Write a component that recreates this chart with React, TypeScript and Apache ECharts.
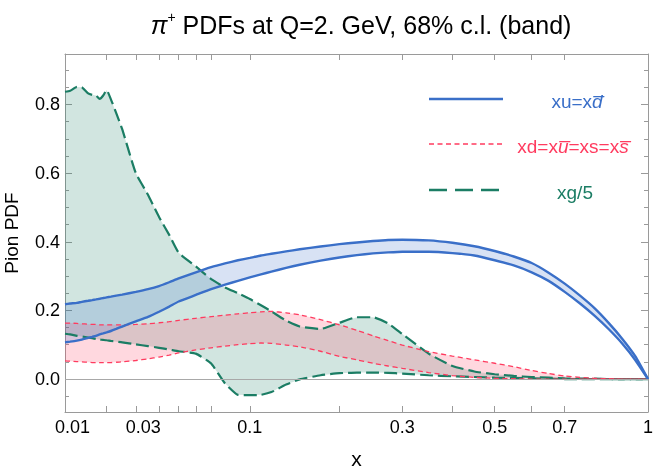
import React, { useEffect, useRef } from "react";
import * as echarts from "echarts";

// x sample points (momentum fraction)
const X = [
  0.01, 0.011, 0.0124, 0.0135, 0.015, 0.016, 0.017, 0.018, 0.019, 0.02, 0.0213, 0.023, 0.025,
  0.03, 0.035, 0.04, 0.045, 0.05, 0.06, 0.07, 0.08, 0.09, 0.1, 0.11, 0.12, 0.135, 0.15, 0.175,
  0.2, 0.225, 0.25, 0.275, 0.3, 0.35, 0.4, 0.45, 0.5, 0.55, 0.6, 0.65, 0.7, 0.75, 0.8, 0.85,
  0.9, 0.95, 1.0,
];

// xu = x dbar band
const U_HI = [
  0.218, 0.22, 0.222, 0.225, 0.228, 0.23, 0.232, 0.234, 0.236, 0.238, 0.24, 0.243, 0.246,
  0.254, 0.262, 0.271, 0.282, 0.293, 0.311, 0.326, 0.337, 0.346, 0.353, 0.36, 0.365, 0.372,
  0.378, 0.386, 0.393, 0.398, 0.402, 0.405, 0.406, 0.404, 0.397, 0.387, 0.373, 0.357, 0.338,
  0.31, 0.278, 0.243, 0.206, 0.163, 0.117, 0.066, 0,
];
const U_LO = [
  0.107, 0.109, 0.112, 0.115, 0.12, 0.123, 0.126, 0.13, 0.133, 0.136, 0.14, 0.146, 0.153,
  0.168, 0.181, 0.196, 0.211, 0.226, 0.245, 0.262, 0.275, 0.286, 0.296, 0.305, 0.313, 0.324,
  0.333, 0.345, 0.354, 0.361, 0.366, 0.369, 0.371, 0.371, 0.367, 0.36, 0.346, 0.331, 0.311,
  0.286, 0.254, 0.22, 0.184, 0.145, 0.103, 0.055, 0,
];

// xd = x ubar = xs = x sbar band
const D_HI = [
  0.163, 0.163, 0.162, 0.161, 0.16, 0.159, 0.159, 0.158, 0.158, 0.158, 0.158, 0.158, 0.158,
  0.159, 0.161, 0.164, 0.167, 0.171, 0.177, 0.182, 0.186, 0.19, 0.193, 0.196, 0.197, 0.193,
  0.187, 0.173, 0.158, 0.142, 0.126, 0.112, 0.099, 0.08, 0.067, 0.056, 0.046, 0.036, 0.025,
  0.016, 0.009, 0.005, 0.002, 0.001, 0, 0, 0,
];
const D_LO = [
  0.053, 0.052, 0.051, 0.05, 0.049, 0.048, 0.048, 0.048, 0.048, 0.048, 0.048, 0.049, 0.05,
  0.054, 0.059, 0.064, 0.07, 0.076, 0.085, 0.091, 0.096, 0.1, 0.103, 0.105, 0.104, 0.099,
  0.094, 0.081, 0.066, 0.056, 0.046, 0.038, 0.031, 0.019, 0.01, 0.005, 0.002, 0.001, 0, 0, 0,
  0, 0, 0, 0, 0, 0,
];

// xg/5 band
const G_HI = [
  0.837, 0.84, 0.851, 0.85, 0.832, 0.828, 0.826, 0.816, 0.826, 0.842, 0.815, 0.775, 0.728,
  0.6, 0.537, 0.472, 0.42, 0.368, 0.328, 0.291, 0.267, 0.25, 0.233, 0.215, 0.197, 0.17,
  0.153, 0.146, 0.164, 0.18, 0.18, 0.162, 0.131, 0.074, 0.038, 0.022, 0.014, 0.009, 0.006,
  0.004, 0.002, 0.001, 0.001, 0, 0, 0, 0,
];
const G_LO = [
  0.132, 0.13, 0.126, 0.124, 0.121, 0.119, 0.117, 0.115, 0.114, 0.113, 0.111, 0.109, 0.107,
  0.101, 0.096, 0.091, 0.086, 0.081, 0.074, 0.045, -0.013, -0.046, -0.047, -0.046, -0.038,
  -0.016, -0.001, 0.011, 0.017, 0.019, 0.019, 0.018, 0.016, 0.011, 0.008, 0.006, 0.004,
  0.003, 0.002, 0.001, 0, 0, 0, 0, 0, 0, 0,
];

const X_LABEL_VALUES = [0.01, 0.03, 0.1, 0.3, 0.5, 0.7, 1];
const X_TICK_LABELS = ["0.01", "0.03", "0.1", "0.3", "0.5", "0.7", "1"];
const X_TICK_VALUES = [0.02, 0.03, 0.04, 0.05, 0.06, 0.07, 0.1, 0.2, 0.3, 0.4, 0.5, 0.6, 0.7];
const Y_MAJOR = [0, 0.2, 0.4, 0.6, 0.8];
const Y_MINOR = [-0.05, 0.05, 0.1, 0.15, 0.25, 0.3, 0.35, 0.45, 0.5, 0.55, 0.65, 0.7, 0.75, 0.85, 0.9];
const Y_MIN = -0.096;
const Y_MAX = 0.947;

const LEGEND_LABELS = ["xu=x{i|d\u0305}", "xd=x{i|u\u0305}=xs=x{i|s\u0305}", "xg/5"];

const BLUE = "#3a6fc8";
const RED = "#ff3b5f";
const GREEN = "#1b7d64";
const FRAME = "#9a9a9a";
const FONT = "'Liberation Sans', Arial, Helvetica, sans-serif";

const cbrt = (v: number) => Math.cbrt(v);

function bandFill(lo: number[], hi: number[], fill: string) {
  return {
    type: "custom",
    silent: true,
    z: 1,
    clip: true,
    data: X.map((x, i) => [cbrt(x), lo[i], hi[i]]),
    encode: { x: 0, y: [1, 2] },
    renderItem: (params: any, api: any) => {
      if (params.dataIndex !== 0) return null;
      const pts: number[][] = [];
      for (let i = 0; i < X.length; i++) pts.push(api.coord([cbrt(X[i]), hi[i]]));
      for (let i = X.length - 1; i >= 0; i--) pts.push(api.coord([cbrt(X[i]), lo[i]]));
      return { type: "polygon", shape: { points: pts }, style: { fill }, silent: true };
    },
  };
}

function edge(name: string, vals: number[], color: string, dash: any, width: number, z: number) {
  return {
    type: "line",
    name,
    symbol: "none",
    showSymbol: false,
    smooth: 0.15,
    silent: true,
    z,
    lineStyle: { color, width, type: dash },
    emphasis: { disabled: true },
    data: X.map((x, i) => [cbrt(x), vals[i]]),
  };
}

function xAxisDef(position: string, labels: boolean, name?: string) {
  return {
    type: "value",
    position,
    min: cbrt(0.01),
    max: 1,
    axisLine: { show: true, onZero: false, lineStyle: { color: FRAME, width: 1 } },
    axisTick: {
      show: true,
      inside: true,
      length: 6,
      customValues: X_TICK_VALUES.map(cbrt),
      lineStyle: { color: FRAME, width: 1 },
    },
    axisLabel: labels
      ? {
          show: true,
          customValues: X_LABEL_VALUES.map(cbrt),
          color: "#000",
          fontSize: 18,
          fontFamily: FONT,
          margin: 6,
          formatter: (v: number) => {
            const i = X_LABEL_VALUES.findIndex((x) => Math.abs(cbrt(x) - v) < 1e-6);
            if (i < 0) return "";
            return i < 2 ? "{s|" + X_TICK_LABELS[i] + "}" : X_TICK_LABELS[i];
          },
          rich: { s: { fontSize: 18, fontFamily: FONT, color: "#000", padding: [0, 0, 0, 15] } },
        }
      : { show: false },
    splitLine: { show: false },
    name: name,
    nameLocation: "middle",
    nameGap: 36,
    nameTextStyle: { color: "#000", fontSize: 21, fontFamily: FONT },
  };
}

function yAxisDef(position: string, values: number[], length: number, line: boolean, labels: boolean, name?: string) {
  return {
    type: "value",
    position,
    min: Y_MIN,
    max: Y_MAX,
    axisLine: { show: line, onZero: false, lineStyle: { color: FRAME, width: 1 } },
    axisTick: {
      show: true,
      inside: true,
      length,
      customValues: values,
      lineStyle: { color: FRAME, width: 1 },
    },
    axisLabel: labels
      ? {
          show: true,
          customValues: Y_MAJOR,
          color: "#000",
          fontSize: 18,
          fontFamily: FONT,
          margin: 5,
          formatter: (v: number) => v.toFixed(1),
        }
      : { show: false },
    splitLine: { show: false },
    name,
    nameLocation: "middle",
    nameGap: 44,
    nameTextStyle: { color: "#000", fontSize: 19, fontFamily: FONT },
  };
}

export default function App() {
  const ref = useRef<HTMLDivElement>(null);
  useEffect(() => {
    if (!ref.current) return;
    const chart = echarts.init(ref.current, undefined, { renderer: "svg" });
    const legendY = [99, 144, 190];
    const legendColors = [BLUE, RED, GREEN];
    const legendDash: any[] = [null, [5, 3.5], [18, 8]];
    const legendWidth = [2.5, 1.3, 2.4];
    const legendX = [577, 573, 575];
    const graphic: any[] = [];
    for (let k = 0; k < 3; k++) {
      graphic.push({
        type: "line",
        silent: true,
        z: 10,
        shape: { x1: 429, y1: legendY[k], x2: 503, y2: legendY[k] },
        style: { stroke: legendColors[k], lineWidth: legendWidth[k], lineDash: legendDash[k] || undefined },
      });
      graphic.push({
        type: "text",
        silent: true,
        z: 10,
        x: legendX[k],
        y: legendY[k] + 2,
        style: {
          text: LEGEND_LABELS[k],
          fill: legendColors[k],
          fontSize: 19,
          fontFamily: FONT,
          align: "center",
          verticalAlign: "middle",
          rich: {
            i: { fill: legendColors[k], fontSize: 19, fontFamily: FONT, fontStyle: "italic" },
          },
        },
      });
    }

    const option: any = {
      animation: false,
      textStyle: { fontFamily: FONT },
      title: {
        text: "{pi|π}{sup|+}{n| PDFs at Q=2. GeV, 68% c.l. (band)}",
        left: 356,
        textAlign: "center",
        top: 5,
        padding: 5,
        textStyle: {
          color: "#000",
          fontSize: 25,
          fontWeight: "normal",
          fontFamily: FONT,
          rich: {
            pi: { fontSize: 25, fontStyle: "italic", fontFamily: FONT, color: "#000", lineHeight: 30 },
            sup: { fontSize: 14, fontFamily: FONT, color: "#000", verticalAlign: "top", lineHeight: 14 },
            n: { fontSize: 25, fontFamily: FONT, color: "#000", lineHeight: 30 },
          },
        },
      },
      grid: { left: 65, right: 6, top: 54, bottom: 57, containLabel: false, outerBoundsMode: "none" },
      xAxis: [xAxisDef("bottom", true, "x"), xAxisDef("top", false)],
      yAxis: [
        yAxisDef("left", Y_MAJOR, 7, true, true, "Pion PDF"),
        yAxisDef("left", Y_MINOR, 4, false, false),
        yAxisDef("right", Y_MAJOR, 7, true, false),
        yAxisDef("right", Y_MINOR, 4, false, false),
      ],
      graphic,
      series: [
        {
          type: "line",
          name: "zero",
          data: [],
          silent: true,
          z: 0,
          markLine: {
            silent: true,
            symbol: "none",
            label: { show: false },
            lineStyle: { color: "#a8a8a8", width: 1, type: "solid" },
            data: [{ yAxis: 0 }],
          },
        },
        bandFill(G_LO, G_HI, "rgba(27,125,100,0.2)"),
        bandFill(D_LO, D_HI, "rgba(255,59,95,0.2)"),
        bandFill(U_LO, U_HI, "rgba(58,111,200,0.2)"),
        edge("xg/5 low", G_LO, GREEN, [13, 5], 2.2, 2),
        edge("xg/5 high", G_HI, GREEN, [13, 5], 2.2, 2),
        edge("xd low", D_LO, RED, [5, 3.5], 1.3, 3),
        edge("xd high", D_HI, RED, [5, 3.5], 1.3, 3),
        edge("xu low", U_LO, BLUE, "solid", 2.4, 4),
        edge("xu high", U_HI, BLUE, "solid", 2.4, 4),
      ],
    };
    chart.setOption(option);
    return () => chart.dispose();
  }, []);
  return (
    <div
      ref={ref}
      style={{ position: "fixed", left: 0, top: 0, width: 654, height: 469 }}
    />
  );
}
